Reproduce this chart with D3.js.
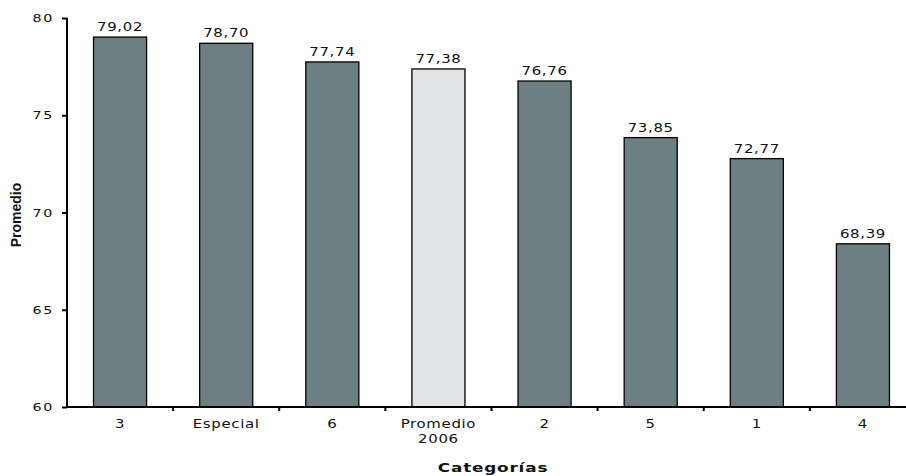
<!DOCTYPE html>
<html><head><meta charset="utf-8">
<script src="https://cdn.jsdelivr.net/npm/d3@7"></script>
<style>body{margin:0;background:#fff}svg{display:block}</style>
</head><body>
<svg id="c" width="906" height="476"></svg>
<script>
const categories = ["3","Especial","6","Promedio 2006","2","5","1","4"];
const values = [79.02,78.70,77.74,77.38,76.76,73.85,72.77,68.39];
const highlight = ["Promedio 2006"];
const yTicks = [60,65,70,75,80];

(function(){
const svg = d3.select("#c");
const mLeft = 67, mRight = 916, mTop = 18, mBottom = 407;
const x = d3.scaleBand().domain(categories).range([mLeft, mRight]).paddingInner(0.5).paddingOuter(0.25);
const y = d3.scaleLinear().domain([60,80]).range([mBottom, mTop]);
const font = "DejaVu Sans, Verdana, sans-serif";
const SX = 1.3, LS = 0.5;
function stretch(sel, sx){
  sel.each(function(){
    const t = d3.select(this);
    const ax = +t.attr("x") || 0, ay = +t.attr("y") || 0;
    t.attr("transform", `translate(${ax},${ay}) scale(${sx},1) translate(${-ax},${-ay})`);
  });
}

svg.selectAll("rect.bar").data(categories).enter().append("rect")
  .attr("x", d => x(d)).attr("width", x.bandwidth())
  .attr("y", (d,i) => y(values[i])).attr("height", (d,i) => mBottom - y(values[i]))
  .attr("fill", d => highlight.includes(d) ? "#e0e4e6" : "#6e7f84")
  .attr("stroke", "#000").attr("stroke-width", 1.3);

svg.selectAll("text.val").data(categories).enter().append("text")
  .attr("x", d => x(d) + x.bandwidth()/2).attr("y", (d,i) => y(values[i]) - 6)
  .attr("text-anchor", "middle").attr("font-family", font).attr("font-size", 11.5).attr("fill", "#111")
  .attr("letter-spacing", LS)
  .text((d,i) => values[i].toFixed(2).replace(".", ","))
  .call(stretch, SX);

// y axis
const ya = svg.append("g").attr("transform", `translate(${mLeft},0)`)
  .call(d3.axisLeft(y).tickValues(yTicks).tickSize(5).tickPadding(8));
ya.select(".domain").attr("stroke", "#000").attr("stroke-width", 2).attr("d", `M0,${mTop}V${mBottom+1}`);
ya.selectAll(".tick line").attr("stroke", "#000").attr("stroke-width", 2);
ya.selectAll(".tick text").attr("font-family", font).attr("font-size", 11).attr("fill", "#111")
  .attr("letter-spacing", LS + 0.8).call(stretch, SX);

// x axis
const bounds = categories.slice(1).map(c => x(c) - x.step()*x.paddingInner()/2);
const xa = svg.append("g").attr("transform", `translate(0,${mBottom})`);
xa.append("path").attr("d", `M${mLeft},0H906`).attr("stroke", "#000").attr("stroke-width", 2);
xa.selectAll("line.t").data(bounds).enter().append("line")
  .attr("x1", d => d).attr("x2", d => d).attr("y1", 0).attr("y2", 4)
  .attr("stroke", "#000").attr("stroke-width", 2);
xa.selectAll("text.lab").data(categories).enter().append("text")
  .attr("x", d => x(d) + x.bandwidth()/2).attr("y", 21)
  .attr("text-anchor", "middle").attr("font-family", font).attr("font-size", 11.5).attr("fill", "#111")
  .attr("letter-spacing", LS)
  .each(function(d){
    const parts = d.split(" ");
    d3.select(this).selectAll("tspan").data(parts).enter().append("tspan")
      .attr("x", x(d) + x.bandwidth()/2).attr("dy", (p,i) => i ? 15 : 0).text(p => p);
  })
  .call(stretch, SX);

svg.append("text").attr("x", 493).attr("y", 472).attr("text-anchor", "middle")
  .attr("font-family", font).attr("font-weight", "bold").attr("font-size", 12.5).attr("fill", "#111")
  .attr("letter-spacing", 0.6).text("Categorías")
  .call(stretch, 1.35);
svg.append("text").attr("transform", "translate(21,215) rotate(-90)").attr("text-anchor", "middle")
  .attr("font-family", "Liberation Sans Narrow, Arial Narrow, sans-serif").attr("font-weight", "bold").attr("font-size", 14).attr("fill", "#111").text("Promedio");
})();
</script>
</body></html>
